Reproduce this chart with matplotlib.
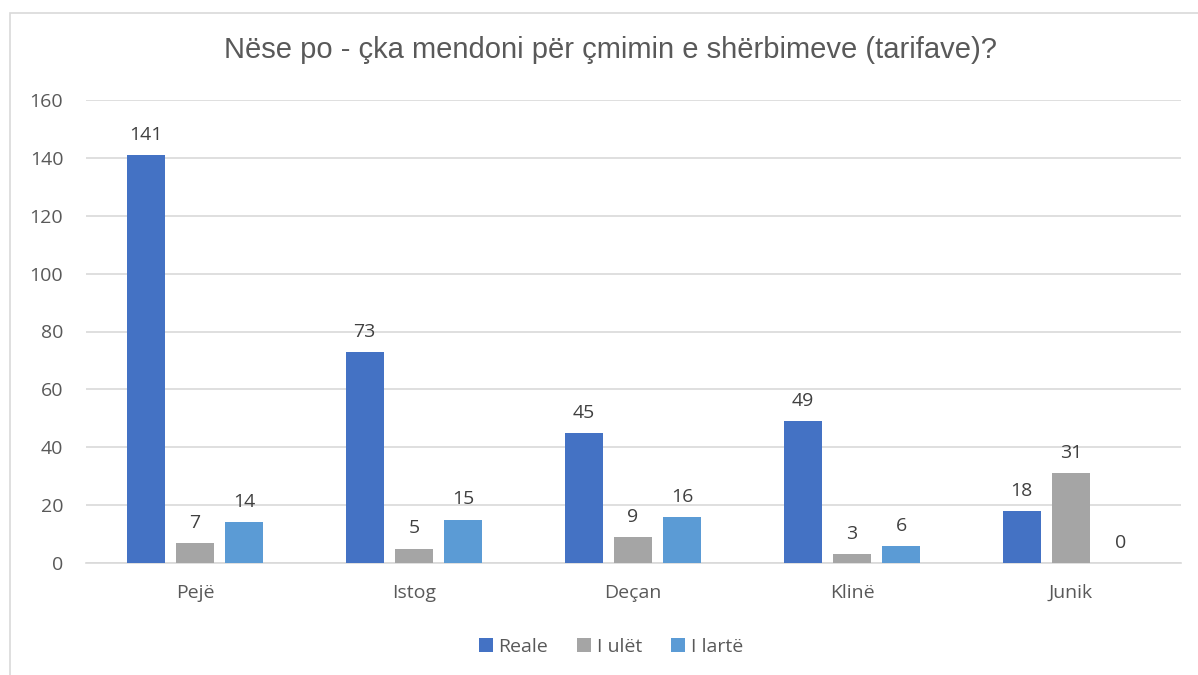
import numpy as np
import matplotlib
matplotlib.use("Agg")
import matplotlib.pyplot as plt
from matplotlib.patches import Rectangle

# Data
categories = ["Pejë", "Istog", "Deçan", "Klinë", "Junik"]
reale = [141, 73, 45, 49, 18]
i_ulet = [7, 5, 9, 3, 31]
i_larte = [14, 15, 16, 6, 0]
series_names = ["Reale", "I ulët", "I lartë"]
colors = ["#4472C4", "#A5A5A5", "#5B9BD5"]
title = "Nëse po - çka mendoni për çmimin e shërbimeve (tarifave)?"

text_color = "#595959"
body_font = "Open Sans"

fig = plt.figure(figsize=(11.98, 6.75), dpi=100)
ax = fig.add_axes([85.5 / 1198, 1 - 563 / 675, 1095 / 1198, 463 / 675])

# chart border (top and left visible)
fig.patches.append(Rectangle((10 / 1198, -0.1), 1.2, 1 - 13 / 675 + 0.1,
                             transform=fig.transFigure, fill=False,
                             edgecolor="#D9D9D9", linewidth=1.2))

x = np.arange(len(categories))
width = 0.175
step = 0.225
for i, (vals, name, col) in enumerate(zip([reale, i_ulet, i_larte], series_names, colors)):
    bars = ax.bar(x + (i - 1) * step, vals, width, color=col, label=name, zorder=3)
    for b, v in zip(bars, vals):
        ax.annotate(str(v), (b.get_x() + b.get_width() / 2, v),
                    xytext=(0, 8), textcoords="offset points",
                    ha="center", va="bottom", fontsize=14,
                    color="#404040", family=body_font)

ax.set_xlim(-0.5, len(categories) - 0.5)
ax.set_ylim(0, 160)
ax.set_yticks(range(0, 161, 20))
ax.yaxis.grid(True, color="#D9D9D9", linewidth=1.2, zorder=0)
ax.set_axisbelow(True)
for s in ["top", "right", "left"]:
    ax.spines[s].set_visible(False)
ax.spines["bottom"].set_color("#D9D9D9")
ax.spines["bottom"].set_linewidth(1.2)
ax.tick_params(axis="both", length=0, labelsize=14, labelcolor=text_color)
ax.tick_params(axis="y", pad=16)
ax.tick_params(axis="x", pad=15)
ax.set_xticks(x)
ax.set_xticklabels(categories)
for lab in ax.get_xticklabels() + ax.get_yticklabels():
    lab.set_family(body_font)

fig.text(0.51, 1 - 50 / 675, title, ha="center", va="center",
         fontsize=21, color=text_color, family="Liberation Sans")

leg = fig.legend(loc="center", bbox_to_anchor=(0.51, 1 - 647 / 675), ncol=3,
                 frameon=False, handlelength=0.7, handleheight=0.7,
                 handletextpad=0.3, columnspacing=1.5,
                 prop={"family": body_font, "size": 14})
for t in leg.get_texts():
    t.set_color(text_color)

fig.savefig("out.png", dpi=100)
